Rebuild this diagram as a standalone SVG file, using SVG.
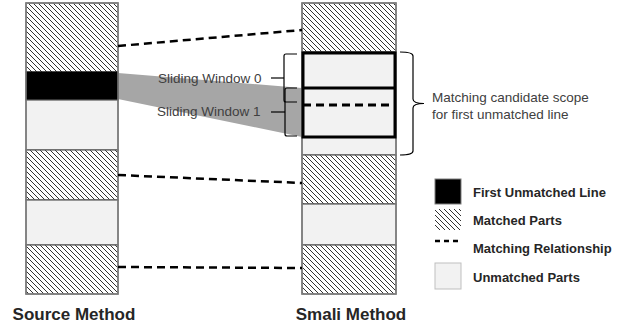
<svg xmlns="http://www.w3.org/2000/svg" width="628" height="327" viewBox="0 0 628 327">
<style>
.hatch{fill:url(#hatch);stroke:#595959;stroke-width:1.2}
.light{fill:#f2f2f2;stroke:#595959;stroke-width:1.2}
.black{fill:#000;stroke:#000;stroke-width:1}
.outline{fill:none;stroke:#7f7f7f;stroke-width:1.5}
.dash{fill:none;stroke:#000;stroke-width:2.5;stroke-dasharray:8 5}
.thick{fill:none;stroke:#000;stroke-width:3}
.br{fill:none;stroke:#000;stroke-width:1.2}
.lbl{font-family:"Liberation Sans",Arial,sans-serif;font-size:13.5px;fill:#404040}
.leg{font-family:"Liberation Sans",Arial,sans-serif;font-size:13px;font-weight:bold;fill:#262626}
.title{font-family:"Liberation Sans",Arial,sans-serif;font-size:17px;font-weight:bold;fill:#262626;text-anchor:middle}
</style>
<defs>
<pattern id="hatch" patternUnits="userSpaceOnUse" width="5" height="5">
<rect width="5" height="5" fill="#fff"/>
<path d="M-1,-1 L6,6 M-1,4 L1,6 M4,-1 L6,1" stroke="#333" stroke-width="1"/>
</pattern>
</defs>

<g id="window-band">
<polygon points="118,73 302,88 302,137 118,99" fill="#a6a6a6"/>
</g>

<g id="source-method">
<rect class="hatch" x="26" y="3" width="92" height="69"/>
<rect class="black" x="26" y="72" width="92" height="28"/>
<rect class="light" x="26" y="100" width="92" height="50"/>
<rect class="hatch" x="26" y="150" width="92" height="50"/>
<rect class="light" x="26" y="200" width="92" height="45"/>
<rect class="hatch" x="26" y="245" width="92" height="49"/>
<rect class="outline" x="26" y="3" width="92" height="291"/>
<text class="title" x="74" y="320">Source Method</text>
</g>

<g id="smali-method">
<rect class="hatch" x="302" y="3" width="94" height="49"/>
<rect class="light" x="302" y="52" width="94" height="103"/>
<rect class="hatch" x="302" y="155" width="94" height="49"/>
<rect class="light" x="302" y="204" width="94" height="41"/>
<rect class="hatch" x="302" y="245" width="94" height="49"/>
<rect class="outline" x="302" y="3" width="94" height="291"/>
<rect class="thick" x="303" y="53" width="92" height="84"/>
<line class="thick" x1="303" y1="88" x2="395" y2="88"/>
<text class="title" x="351" y="320">Smali Method</text>
</g>

<g id="connectors">
<line class="dash" x1="118" y1="46" x2="302" y2="30"/>
<line class="dash" x1="118" y1="175" x2="302" y2="183"/>
<line class="dash" x1="118" y1="267" x2="302" y2="268"/>
<line class="dash" x1="303" y1="105" x2="395" y2="105" style="stroke-width:3"/>
</g>

<g id="sliding-window-0">
<text class="lbl" x="158" y="83">Sliding Window 0</text>
<line class="br" x1="271" y1="78" x2="284" y2="78"/>
<path class="br" d="M297,54 H286 Q284,54 284,56 V100 Q284,102 286,102 H297"/>
</g>

<g id="sliding-window-1">
<text class="lbl" x="157" y="116">Sliding Window 1</text>
<line class="br" x1="271" y1="112" x2="285" y2="112"/>
<path class="br" d="M297,88 H287 Q285,88 285,90 V134 Q285,136 287,136 H297"/>
</g>

<g id="candidate-scope">
<path class="br" d="M400,52 Q413,52 413,56 V99 Q413,103.5 424,103.5 Q413,103.5 413,108 V151 Q413,155 400,155"/>
<text class="lbl" x="432" y="102">Matching candidate scope</text>
<text class="lbl" x="432" y="119">for first unmatched line</text>
</g>

<g id="legend">
<g id="legend-first-unmatched">
<rect x="435" y="179" width="26" height="25" fill="#000" stroke="#7f7f7f" stroke-width="1"/>
<text class="leg" x="473" y="197">First Unmatched Line</text>
</g>
<g id="legend-matched">
<rect x="435" y="209" width="26" height="21" fill="url(#hatch)"/>
<text class="leg" x="473" y="225">Matched  Parts</text>
</g>
<g id="legend-relationship">
<line class="dash" x1="435" y1="241" x2="461" y2="241" style="stroke-dasharray:5 4;stroke-width:2.5"/>
<text class="leg" x="473" y="253">Matching Relationship</text>
</g>
<g id="legend-unmatched">
<rect x="435" y="263" width="26" height="26" fill="#f2f2f2" stroke="#bfbfbf" stroke-width="1"/>
<text class="leg" x="473" y="282">Unmatched Parts</text>
</g>
</g>
</svg>
